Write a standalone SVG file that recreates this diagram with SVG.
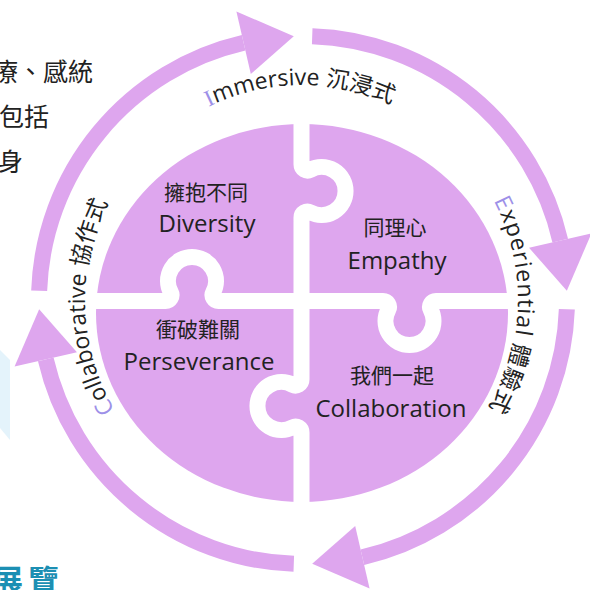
<svg xmlns="http://www.w3.org/2000/svg" xmlns:xlink="http://www.w3.org/1999/xlink" width="590" height="590" viewBox="0 0 590 590">
<style>
.purple{fill:#dea6ee}
.ring{fill:none;stroke:#dea6ee;stroke-width:16;stroke-linecap:butt}
.cut{fill:none;stroke:#ffffff;stroke-width:16;stroke-linejoin:round}
.lbl{font-family:"Open Sans","Noto Sans CJK TC",sans-serif;fill:#222;text-anchor:middle}
.en{font-size:24px}
.zh{font-size:21px}
.arc{font-family:"Open Sans","Noto Sans CJK TC",sans-serif;font-size:23px;fill:#222}
.ini{fill:#9d90e8}
.side{font-family:"Noto Sans CJK TC","Noto Sans",sans-serif;font-size:25px;fill:#222;text-anchor:end}
</style>
<defs>
<g id="arrowShape">
<path class="ring" d="M566.84 309.21 A264 264 0 0 1 362.39 557.23"/>
<polygon class="purple" points="369.59,588.41 312.21,563.84 355.19,526.05"/>
</g>
<path id="pImm" d="M208.75 106.76 A215 215 0 0 1 517.48 315"/>
<path id="pExp" d="M493.71 200.72 A215 215 0 0 1 299.25 514.97"/>
<path id="pCol" d="M114.8 410.1 A218 218 0 0 1 302 82"/>
</defs>

<g id="background-fragments">
<polygon points="0,350 10,360 10,440 0,428" fill="#e4f3fb"/>
<text class="side" x="93" y="81">療、感統</text>
<text class="side" x="49" y="126">包括</text>
<text class="side" x="23" y="171">身</text>
<text x="-8" y="592" font-family="Noto Sans CJK TC,sans-serif" font-weight="bold" font-size="31" letter-spacing="5" fill="#1c8fb3">展覽</text>
</g>

<g id="connectors">
<use xlink:href="#arrowShape"/>
<use xlink:href="#arrowShape" transform="rotate(90 303 300)"/>
<use xlink:href="#arrowShape" transform="rotate(180 303 300)"/>
<use xlink:href="#arrowShape" transform="rotate(270 303 300)"/>
</g>

<g id="puzzle">
<ellipse class="purple" cx="302" cy="313" rx="206" ry="189"/>
<path class="cut" d="M301.5 100 V164.5 A6 6 0 0 0 310.3 169.8 A24 24 0 1 1 310.3 212.2 A6 6 0 0 0 301.5 217.5 V379.5 A6 6 0 0 1 292.7 384.8 A24 24 0 1 0 292.7 427.2 A6 6 0 0 1 301.5 432.5 V525"/>
<path class="cut" d="M80 301 H165.5 A6 6 0 0 0 170.8 292.2 A24 24 0 1 1 213.2 292.2 A6 6 0 0 0 218.5 301 H383 A6 6 0 0 1 388.3 309.8 A24 24 0 1 0 430.7 309.8 A6 6 0 0 1 436 301 H525"/>
</g>

<g id="node-diversity">
<text class="lbl zh" x="206" y="200">擁抱不同</text>
<text class="lbl en" x="207" y="232">Diversity</text>
</g>
<g id="node-empathy">
<text class="lbl zh" x="395" y="235">同理心</text>
<text class="lbl en" x="397" y="269">Empathy</text>
</g>
<g id="node-perseverance">
<text class="lbl zh" x="198" y="337">衝破難關</text>
<text class="lbl en" x="199" y="370">Perseverance</text>
</g>
<g id="node-collaboration">
<text class="lbl zh" x="392" y="383">我們一起</text>
<text class="lbl en" x="391" y="417">Collaboration</text>
</g>

<g id="ring-labels">
<text class="arc"><textPath xlink:href="#pImm"><tspan class="ini" font-family="Liberation Serif,serif">I</tspan>mmersive 沉浸式</textPath></text>
<text class="arc" letter-spacing="1"><textPath xlink:href="#pExp"><tspan class="ini">E</tspan>xperiential 體驗式</textPath></text>
<text class="arc"><textPath xlink:href="#pCol"><tspan class="ini">C</tspan>ollaborative 協作式</textPath></text>
</g>
</svg>
